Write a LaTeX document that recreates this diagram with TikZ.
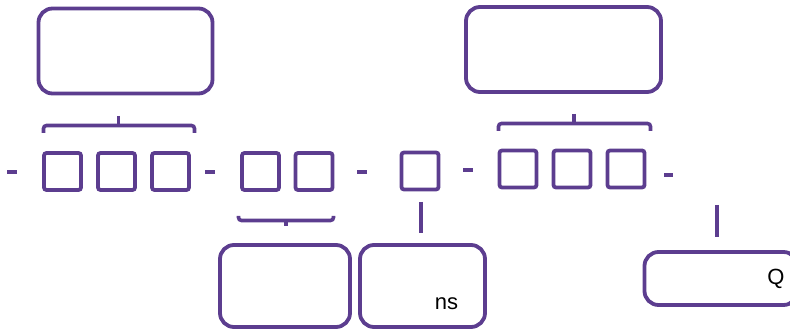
\documentclass[tikz,border=0pt]{standalone}
\usepackage{fontspec}
\setmainfont{Liberation Sans}
\definecolor{pur}{HTML}{5C3D8F}
\begin{document}
\begin{tikzpicture}[x=1pt,y=-1pt,
  big/.style={draw=pur,line width=3.8pt,rounded corners=14pt,inner sep=0pt,minimum width=#1},
  sq/.style={draw=pur,line width=3.8pt,rounded corners=2.5pt,inner sep=0pt,minimum width=37pt,minimum height=37pt},
  ln/.style={draw=pur,line width=3.6pt},
  br/.style={draw=pur,line width=3.6pt,rounded corners=3pt},
  lbl/.style={inner sep=0pt,anchor=base,font=\fontsize{22}{26}\selectfont}]
\useasboundingbox (0,0) rectangle (790,331);
% top boxes
\node[big=174pt,minimum height=85pt] (t1) at (125.5,51) {};
\node[big=195pt,minimum height=85pt] (t2) at (563.5,49.5) {};
% squares
\node[sq] (s1) at (62.5,171.5) {};
\node[sq] (s2) at (116.5,171.5) {};
\node[sq] (s3) at (170.5,171.5) {};
\node[sq] (s4) at (260.5,171.5) {};
\node[sq] (s5) at (314,171.5) {};
\node[sq] (s6) at (420,171) {};
\node[sq] (s7) at (518,169) {};
\node[sq] (s8) at (572,169) {};
\node[sq] (s9) at (626,169) {};
% dashes
\coordinate (d1a) at (7,172); \coordinate (d1b) at (17,172);
\coordinate (d2a) at (205,172); \coordinate (d2b) at (215,172);
\coordinate (d3a) at (357,172); \coordinate (d3b) at (367,172);
\coordinate (d4a) at (463,170); \coordinate (d4b) at (473,170);
\coordinate (d5a) at (664,175); \coordinate (d5b) at (673,175);
\draw[ln] (d1a) -- (d1b);
\draw[ln] (d2a) -- (d2b);
\draw[ln] (d3a) -- (d3b);
\draw[ln] (d4a) -- (d4b);
\draw[ln] (d5a) -- (d5b);
% brackets
\coordinate (b1l) at (43.5,133); \coordinate (b1r) at (194.5,133);
\coordinate (b1t) at (118.5,116);
\draw[br] (b1l) -- (43.5,125.5) -- (194.5,125.5) -- (b1r);
\draw[ln] (b1t) -- (118.5,125.5);
\coordinate (b2l) at (238.5,216); \coordinate (b2r) at (333.5,216);
\coordinate (b2t) at (286,226);
\draw[br] (b2l) -- (238.5,220.5) -- (333.5,220.5) -- (b2r);
\draw[ln] (b2t) -- (286,220.5);
\coordinate (b3l) at (498.5,131); \coordinate (b3r) at (650.5,131);
\coordinate (b3t) at (574,114);
\draw[br] (b3l) -- (498.5,123.5) -- (650.5,123.5) -- (b3r);
\draw[ln] (b3t) -- (574,123.5);
% vertical lines
\coordinate (v1a) at (421,202); \coordinate (v1b) at (421,233);
\coordinate (v2a) at (717,205); \coordinate (v2b) at (717,237);
\draw[ln] (v1a) -- (v1b);
\draw[ln] (v2a) -- (v2b);
% bottom boxes
\node[big=130pt,minimum height=82pt] (bA) at (285,286) {};
\node[big=125pt,minimum height=82pt] (bB) at (422.5,286) {};
\node[big=153pt,minimum height=53pt] (bQ) at (721,278.5) {};
\node[lbl] (ns) at (446.5,309) {ns};
\node[lbl] (q) at (776,284) {Q};
\end{tikzpicture}
\end{document}
